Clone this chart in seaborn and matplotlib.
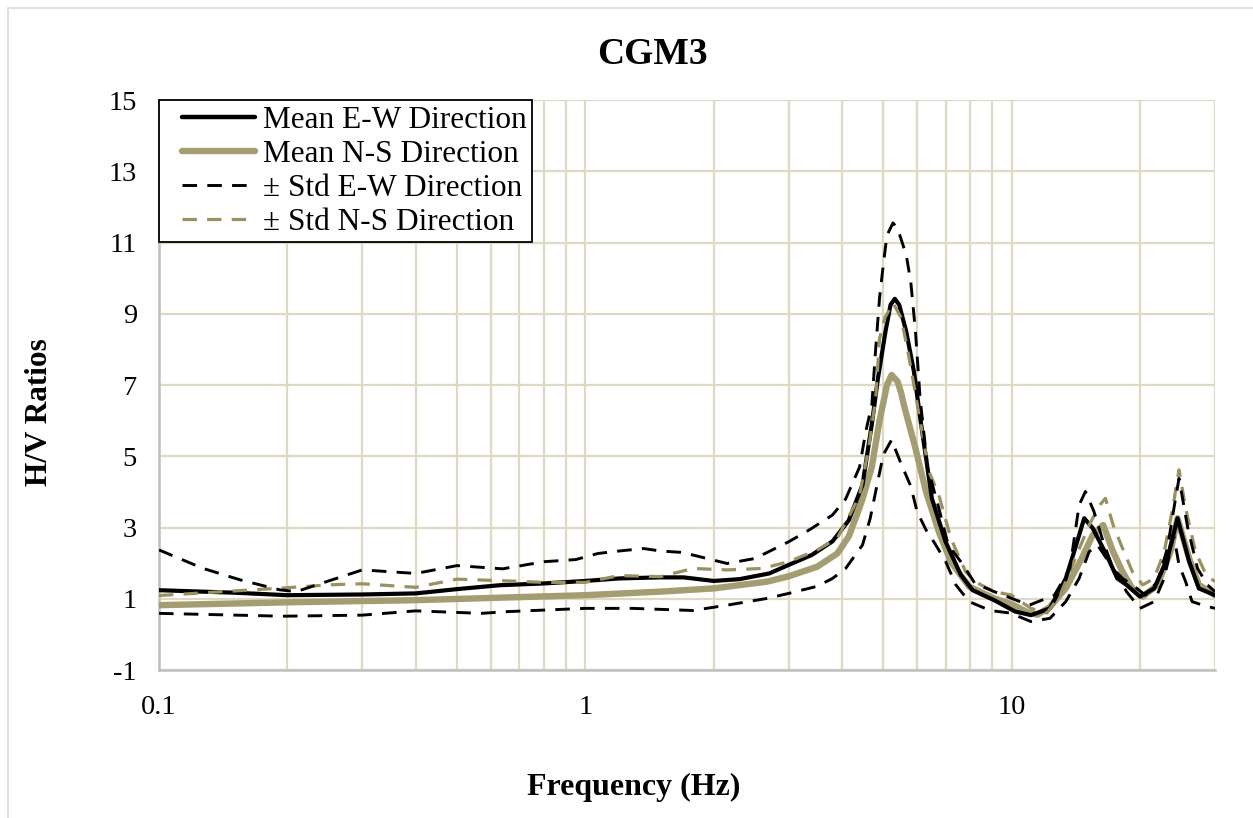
import matplotlib
matplotlib.use("Agg")
import matplotlib.pyplot as plt
import seaborn as sns
import numpy as np
from matplotlib.lines import Line2D
from matplotlib.legend_handler import HandlerLine2D

# ---------------- data ----------------
ew_mean_f = [0.1, 0.15, 0.2, 0.3, 0.4, 0.5, 0.63, 0.8, 1.0, 1.2, 1.5, 1.7, 2.0, 2.3, 2.7, 3.0, 3.4, 3.8,
             4.15, 4.47, 4.7, 4.86, 5.06, 5.2, 5.32, 5.45, 5.66, 5.9, 6.1, 6.5, 7.0, 7.6, 8.1, 9.1, 10.2,
             11.1, 12.3, 13.4, 14.1, 14.8, 15.5, 16.7, 17.7, 18.6, 20.0, 21.6, 23.2, 24.5, 26.1, 27.5, 30.0]
ew_mean_v = [1.24, 1.17, 1.10, 1.12, 1.15, 1.27, 1.38, 1.43, 1.50, 1.57, 1.60, 1.60, 1.50, 1.55, 1.71, 1.95, 2.23, 2.61,
             3.20, 4.20, 5.90, 7.20, 8.50, 9.25, 9.42, 9.25, 8.50, 7.38, 6.10, 3.82, 2.60, 1.67, 1.24, 0.96, 0.64,
             0.54, 0.73, 1.57, 2.42, 3.26, 2.98, 2.23, 1.57, 1.39, 1.06, 1.29, 2.13, 3.26, 2.04, 1.29, 1.10]

ns_mean_f = [0.1, 0.2, 0.4, 0.63, 1.0, 1.5, 2.0, 2.67, 3.0, 3.5, 3.9, 4.15, 4.35, 4.47, 4.7, 4.9, 5.0, 5.1,
             5.23, 5.4, 5.5, 5.6, 5.95, 6.3, 6.75, 7.2, 7.95, 9.1, 10.0, 10.9, 11.5, 12.3, 13.4, 14.6, 15.5,
             16.4, 17.3, 18.2, 19.2, 20.3, 22.0, 23.6, 24.5, 26.1, 27.5, 30.0]
ns_mean_v = [0.82, 0.90, 0.96, 1.03, 1.10, 1.20, 1.29, 1.48, 1.63, 1.90, 2.27, 2.75, 3.40, 3.80, 4.70, 6.00, 6.50, 7.00,
             7.28, 7.10, 6.80, 6.40, 5.22, 4.00, 2.88, 2.04, 1.34, 1.01, 0.85, 0.62, 0.55, 0.77, 1.29, 2.13, 2.79,
             3.07, 2.32, 1.76, 1.29, 1.06, 1.39, 2.32, 3.26, 2.13, 1.39, 1.10]

ew_up_f = [0.1, 0.127, 0.155, 0.192, 0.21, 0.25, 0.3, 0.4, 0.5, 0.64, 0.8, 0.95, 1.07, 1.2, 1.37, 1.5, 1.69, 1.93,
           2.15, 2.5, 3.0, 3.35, 3.8, 4.08, 4.4, 4.55, 4.7, 4.8, 4.9, 5.0, 5.1, 5.27, 5.4, 5.66, 5.8, 5.95, 6.1,
           6.35, 6.75, 7.1, 7.7, 8.2, 9.1, 10.0, 11.0, 12.6, 13.7, 14.4, 14.9, 15.6, 16.4, 17.3, 18.2, 19.2,
           20.6, 22.0, 23.2, 24.1, 24.7, 25.9, 27.3, 28.8, 30.0]
ew_up_v = [2.37, 1.85, 1.53, 1.25, 1.20, 1.50, 1.81, 1.71, 1.93, 1.84, 2.04, 2.10, 2.27, 2.34, 2.41, 2.34, 2.30, 2.13,
           1.99, 2.13, 2.60, 2.93, 3.35, 3.80, 4.70, 5.70, 6.44, 8.03, 9.44, 10.37, 11.20, 11.55, 11.40, 10.65, 9.90, 8.50, 6.63,
           4.70, 3.54, 2.51, 1.95, 1.43, 1.20, 1.01, 0.82, 1.10, 1.85, 3.63, 4.01, 3.45, 2.60, 1.85, 1.57, 1.39,
           1.10, 1.48, 2.42, 3.63, 4.38, 2.98, 1.85, 1.39, 1.20]

ew_lo_f = [0.1, 0.195, 0.3, 0.4, 0.57, 0.66, 1.0, 1.29, 1.79, 2.2, 2.67, 3.0, 3.5, 3.8, 4.08, 4.47, 4.66, 4.87,
           5.0, 5.23, 5.5, 5.8, 6.0, 6.3, 6.6, 7.0, 7.4, 7.95, 8.9, 9.9, 10.2, 11.1, 12.3, 13.4, 14.4, 15.2,
           15.9, 16.7, 17.7, 18.6, 20.0, 21.6, 22.8, 24.0, 24.7, 25.6, 26.5, 28.1, 30.0]
ew_lo_v = [0.59, 0.51, 0.54, 0.66, 0.59, 0.64, 0.73, 0.73, 0.67, 0.84, 1.01, 1.15, 1.35, 1.57, 1.85, 2.51, 3.26, 4.38,
           5.04, 5.46, 4.80, 4.16, 3.45, 2.93, 2.56, 2.05, 1.39, 0.92, 0.67, 0.60, 0.54, 0.36, 0.45, 0.92, 1.57, 2.32,
           2.51, 2.13, 1.67, 1.20, 0.73, 0.92, 1.57, 2.79, 1.95, 1.48, 0.92, 0.82, 0.73]

ns_up_f = [0.1, 0.2, 0.25, 0.3, 0.4, 0.5, 0.66, 0.8, 1.0, 1.2, 1.5, 1.79, 2.15, 2.6, 3.0, 3.5, 3.9, 4.25, 4.4,
           4.62, 4.8, 4.9, 5.05, 5.27, 5.5, 5.7, 5.9, 6.1, 6.4, 6.75, 7.2, 7.8, 8.2, 9.1, 10.0, 11.1, 12.1, 13.0,
           14.1, 15.2, 16.1, 16.6, 17.3, 18.2, 19.2, 20.3, 21.6, 22.8, 23.8, 24.7, 25.6, 27.0, 28.6, 30.0]
ns_up_v = [1.09, 1.31, 1.39, 1.42, 1.32, 1.55, 1.50, 1.46, 1.46, 1.65, 1.62, 1.85, 1.81, 1.85, 2.04, 2.37, 2.70, 3.54, 3.91,
           5.22, 6.63, 8.30, 8.90, 9.30, 8.90, 8.00, 7.00, 6.00, 4.57, 3.91, 2.70, 1.76, 1.48, 1.20, 1.10, 0.73, 0.60, 1.10,
           2.13, 3.07, 3.63, 3.82, 3.07, 2.42, 1.76, 1.39, 1.57, 2.32, 3.45, 4.62, 3.54, 2.32, 1.67, 1.48]

labels = ["Mean E-W Direction", "Mean N-S Direction", "\u00b1 Std E-W Direction", "\u00b1 Std N-S Direction"]
title = "CGM3"
x_label = "Frequency (Hz)"
y_label = "H/V Ratios"
y_ticks = [-1, 1, 3, 5, 7, 9, 11, 13, 15]
x_ticks = [0.1, 1, 10]
x_tick_labels = ["0.1", "1", "10"]

# ---------------- style ----------------
sns.set_theme(style="white")
plt.rcParams["font.family"] = ["Liberation Serif", "DejaVu Serif"]
plt.rcParams["axes.unicode_minus"] = False
plt.rcParams["text.color"] = "black"

BLACK = "#000000"
KHAKI = "#A59D72"
KHAKI_D = "#9A9060"
GRID = "#DDD9C3"
DASH = (0, (5, 3.5))
DASH_K = (0, (4.5, 3.2))

fig = plt.figure(figsize=(12.53, 8.18), dpi=100)
ax = fig.add_axes([159 / 1253, 1 - 670 / 818, (1215 - 159) / 1253, (670 - 100) / 818])

sns.lineplot(x=ns_mean_f, y=ns_mean_v, ax=ax, color=KHAKI, lw=4.6, estimator=None, sort=False, zorder=3)
sns.lineplot(x=ew_mean_f, y=ew_mean_v, ax=ax, color=BLACK, lw=3.0, estimator=None, sort=False, zorder=4)
sns.lineplot(x=ns_up_f, y=ns_up_v, ax=ax, color=KHAKI_D, lw=2.3, estimator=None, sort=False,
             linestyle=DASH_K, zorder=5)
sns.lineplot(x=ew_up_f, y=ew_up_v, ax=ax, color=BLACK, lw=2.1, estimator=None, sort=False,
             linestyle=DASH, zorder=6)
sns.lineplot(x=ew_lo_f, y=ew_lo_v, ax=ax, color=BLACK, lw=2.1, estimator=None, sort=False,
             linestyle=DASH, zorder=6)

ax.set_xscale("log")
ax.set_xlim(0.1, 30)
ax.set_ylim(-1, 15)
ax.set_yticks(y_ticks)
ax.set_xticks(x_ticks)
ax.set_xticklabels(x_tick_labels)
ax.xaxis.set_minor_locator(matplotlib.ticker.LogLocator(base=10, subs=np.arange(2, 10)))
ax.xaxis.set_minor_formatter(matplotlib.ticker.NullFormatter())
ax.grid(True, which="both", axis="x", color=GRID, lw=1.6)
ax.grid(True, which="major", axis="y", color=GRID, lw=1.6)
ax.set_axisbelow(True)
ax.tick_params(axis="both", which="both", length=0, labelsize=20.5, colors="black")
ax.tick_params(axis="x", pad=18)
ax.tick_params(axis="y", pad=16)
for s in ["top", "right"]:
    ax.spines[s].set_visible(False)
for s in ["left", "bottom"]:
    ax.spines[s].set_color("#BFBFBF")
    ax.spines[s].set_linewidth(1.8)
ax.set_xlabel("")
ax.set_ylabel("")

handles = [
    Line2D([], [], color=BLACK, lw=3.2),
    Line2D([], [], color=KHAKI, lw=4.6),
    Line2D([], [], color=BLACK, lw=2.1, linestyle=DASH),
    Line2D([], [], color=KHAKI_D, lw=2.3, linestyle=DASH_K),
]
hm = {h: HandlerLine2D(xpad=0.55) for h in handles}
leg = ax.legend(handles, labels, loc="upper left", bbox_to_anchor=(0, 1), borderaxespad=0,
                fontsize=22.5, frameon=True, fancybox=False, edgecolor="black", framealpha=1,
                handlelength=2.9, handletextpad=0.25, labelspacing=0.16, borderpad=0.18,
                handler_map=hm)
leg.get_frame().set_linewidth(1.3)
leg.set_zorder(10)
for t in leg.get_texts():
    t.set_color("black")

fig.text(652 / 1253, 1 - 55 / 818, title, ha="center", va="center", fontsize=27, fontweight="bold",
         color="black")
fig.text(634 / 1253, 1 - 787 / 818, x_label, ha="center", va="center", fontsize=23, fontweight="bold",
         color="black")
fig.text(40 / 1253, 1 - 412 / 818, y_label, ha="center", va="center", fontsize=22.5, fontweight="bold",
         rotation=90, color="black")

# outer chart-area border
fig.add_artist(Line2D([8 / 1253, 1.0], [1 - 8 / 818, 1 - 8 / 818], color="#D9D9D9", lw=1.2,
                      transform=fig.transFigure))
fig.add_artist(Line2D([8 / 1253, 8 / 1253], [0.0, 1 - 8 / 818], color="#D9D9D9", lw=1.2,
                      transform=fig.transFigure))

fig.savefig("out.png", dpi=100)
